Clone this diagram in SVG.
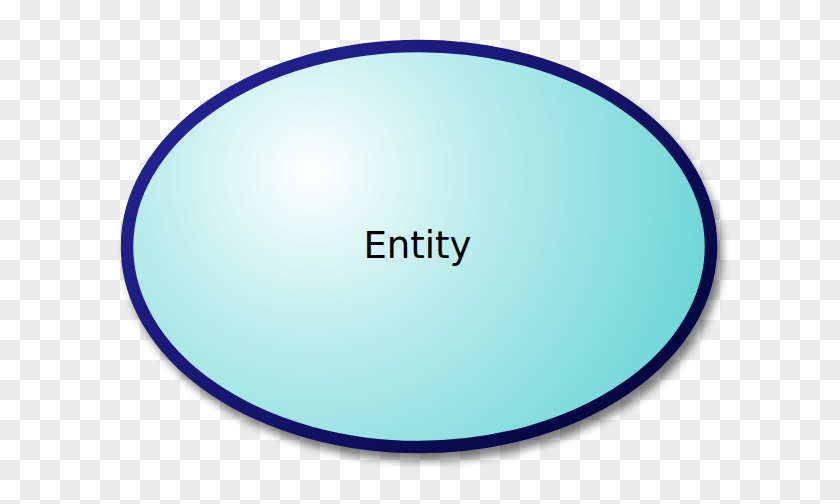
<svg xmlns="http://www.w3.org/2000/svg" width="840" height="504" viewBox="0 0 840 504">
<defs>
<radialGradient id="fillGrad" gradientUnits="userSpaceOnUse" cx="312" cy="172" r="430" fx="312" fy="172">
<stop offset="0" stop-color="#ffffff"/>
<stop offset="0.35" stop-color="#c2eeee"/>
<stop offset="1" stop-color="#66d4d6"/>
</radialGradient>
<linearGradient id="strokeGrad" gradientUnits="userSpaceOnUse" x1="250" y1="60" x2="620" y2="440">
<stop offset="0" stop-color="#22228f"/>
<stop offset="0.5" stop-color="#14146a"/>
<stop offset="1" stop-color="#04043c"/>
</linearGradient>
<filter id="shadow" x="-10%" y="-10%" width="120%" height="130%">
<feGaussianBlur stdDeviation="4"/>
</filter>
<style>
.label { font-family: "DejaVu Sans", "Liberation Sans", sans-serif; font-size: 37px; fill: #000000; }
.chk { fill: none; stroke: #ebebeb; stroke-width: 20; stroke-dasharray: 20 20; }
</style>
</defs>
<rect width="840" height="504" fill="#ffffff"/>
<path class="chk" d="M-20 10H860 M-20 50H860 M-20 90H860 M-20 130H860 M-20 170H860 M-20 210H860 M-20 250H860 M-20 290H860 M-20 330H860 M-20 370H860 M-20 410H860 M-20 450H860 M-20 490H860"/>
<path class="chk" d="M0 30H840 M0 70H840 M0 110H840 M0 150H840 M0 190H840 M0 230H840 M0 270H840 M0 310H840 M0 350H840 M0 390H840 M0 430H840 M0 470H840 M0 510H840"/>
<g id="connectors"></g>
<g id="entity">
<ellipse cx="424" cy="255" rx="298" ry="206" fill="#000000" opacity="0.5" filter="url(#shadow)"/>
<ellipse cx="419" cy="246.5" rx="292" ry="200.5" fill="url(#fillGrad)" stroke="url(#strokeGrad)" stroke-width="12.5"/>
<text class="label" x="417.5" y="258" text-anchor="middle">Entity</text>
</g>
</svg>
